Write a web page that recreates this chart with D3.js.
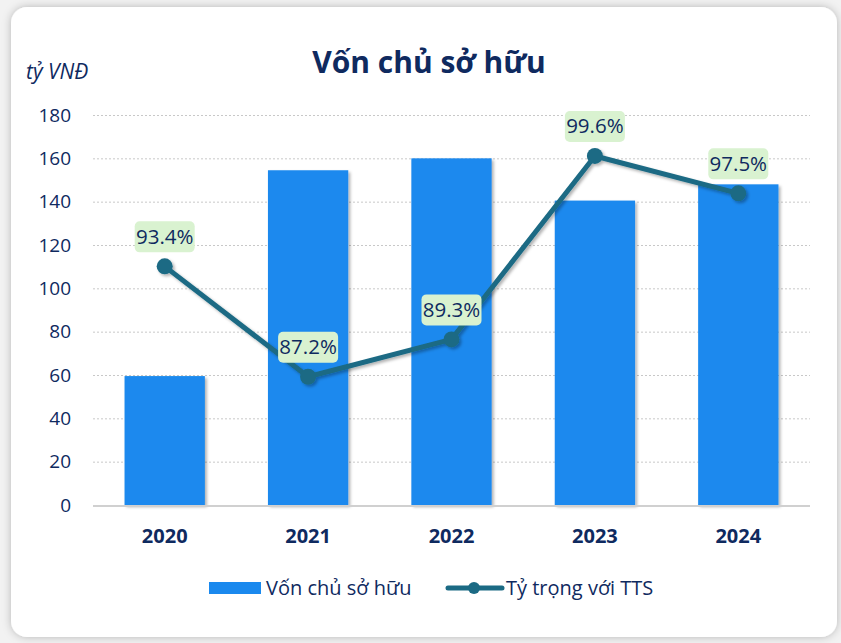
<!DOCTYPE html>
<html><head><meta charset="utf-8">
<script src="https://cdn.jsdelivr.net/npm/d3@7"></script>
<style>
body{margin:0;background:#fff;font-family:"Open Sans","Noto Sans",sans-serif;}
</style></head>
<body>
<svg id="c" width="841" height="643"></svg>
<script>
const years = ["2020","2021","2022","2023","2024"];
const equity = [59.5, 154.5, 160, 140.5, 148];
const ratio = [93.4, 87.2, 89.3, 99.6, 97.5];
const ratioLabels = ["93.4%","87.2%","89.3%","99.6%","97.5%"];
const yTicks = [0,20,40,60,80,100,120,140,160,180];

const svg = d3.select("#c");
const defs = svg.append("defs");
const f = defs.append("filter").attr("id","card").attr("x","-10%").attr("y","-10%").attr("width","120%").attr("height","120%");
f.append("feDropShadow").attr("dx",0).attr("dy",0).attr("stdDeviation",4).attr("flood-color","#000").attr("flood-opacity",0.25);
const f2 = defs.append("filter").attr("id","sh").attr("x","-20%").attr("y","-20%").attr("width","140%").attr("height","140%");
f2.append("feDropShadow").attr("dx",2).attr("dy",2).attr("stdDeviation",1.5).attr("flood-color","#000").attr("flood-opacity",0.3);

svg.append("rect").attr("x",0).attr("y",0).attr("width",841).attr("height",643).attr("fill","#f2f2f2");
svg.append("rect").attr("x",11).attr("y",7).attr("width",826).attr("height",630).attr("rx",16)
  .attr("fill","#fff").attr("filter","url(#card)");

const navy = "#0f2a5f";
const x = d3.scaleBand().domain(years).range([93,810]).paddingInner(0.44).paddingOuter(0.22);
const y = d3.scaleLinear().domain([0,180]).range([505,115]);
const y2 = d3.scaleLinear().domain([80,101.9]).range([505,115]);

svg.append("text").attr("x",429).attr("y",73).attr("text-anchor","middle")
  .attr("font-size",30).attr("font-weight","bold").attr("fill",navy).text("Vốn chủ sở hữu");
svg.append("text").attr("x",26).attr("y",79).attr("font-size",21).attr("font-style","italic")
  .attr("fill",navy).text("tỷ VNĐ");

// grid
const gy = svg.append("g").attr("transform","translate(93,0)")
  .call(d3.axisLeft(y).tickValues(yTicks).tickSize(-717).tickPadding(22));
gy.select(".domain").remove();
gy.selectAll(".tick line").attr("stroke","#c8c8c8").attr("stroke-dasharray","2,2")
  .attr("stroke-width",1).filter(d=>d===0).attr("stroke","none");
gy.selectAll(".tick text").attr("font-size",19).attr("fill",navy).attr("font-family","Open Sans, sans-serif");

// bars
svg.append("g").selectAll("rect").data(equity).join("rect")
  .attr("x",(d,i)=>x(years[i])).attr("y",d=>y(d)).attr("width",x.bandwidth())
  .attr("height",d=>y(0)-y(d)).attr("fill","#1a89ee").attr("filter","url(#sh)");

// baseline
svg.append("line").attr("x1",93).attr("x2",810).attr("y1",y(0)+1).attr("y2",y(0)+1)
  .attr("stroke","#d0d0d0").attr("stroke-width",2);

// x axis
const gx = svg.append("g").attr("transform",`translate(0,${y(0)})`)
  .call(d3.axisBottom(x).tickSize(0).tickPadding(24));
gx.select(".domain").remove();
gx.selectAll(".tick text").attr("font-size",20).attr("font-weight","bold").attr("fill",navy)
  .attr("font-family","Open Sans, sans-serif");

// line
const lineColor = "#1b6a84";
const cx = (i)=>x(years[i])+x.bandwidth()/2;
const lg = svg.append("g").attr("filter","url(#sh)");
lg.append("path").datum(ratio)
  .attr("d", d3.line().x((d,i)=>cx(i)).y(d=>y2(d)))
  .attr("fill","none").attr("stroke",lineColor).attr("stroke-width",5).attr("stroke-linejoin","round");
lg.selectAll("circle").data(ratio).join("circle")
  .attr("cx",(d,i)=>cx(i)).attr("cy",d=>y2(d)).attr("r",8).attr("fill",lineColor);

// labels
const lab = svg.append("g").selectAll("g").data(ratio).join("g")
  .attr("transform",(d,i)=>`translate(${cx(i)},${y2(d)-30})`);
lab.append("rect").attr("x",-30).attr("y",-15).attr("width",60).attr("height",31).attr("rx",5)
  .attr("fill","#d9f2d0");
lab.append("text").attr("text-anchor","middle").attr("dy","0.36em").attr("font-size",20.5)
  .attr("fill",navy).text((d,i)=>ratioLabels[i]);

// legend
const leg = svg.append("g");
leg.append("rect").attr("x",209).attr("y",582).attr("width",52).attr("height",12).attr("fill","#1a89ee");
leg.append("text").attr("x",266).attr("y",595).attr("font-size",20).attr("fill",navy).text("Vốn chủ sở hữu");
leg.append("line").attr("x1",448).attr("x2",502).attr("y1",588).attr("y2",588)
  .attr("stroke",lineColor).attr("stroke-width",5).attr("stroke-linecap","round");
leg.append("circle").attr("cx",474).attr("cy",588).attr("r",6).attr("fill",lineColor);
leg.append("text").attr("x",506).attr("y",595).attr("font-size",20).attr("fill",navy).text("Tỷ trọng với TTS");
</script>
</body></html>
